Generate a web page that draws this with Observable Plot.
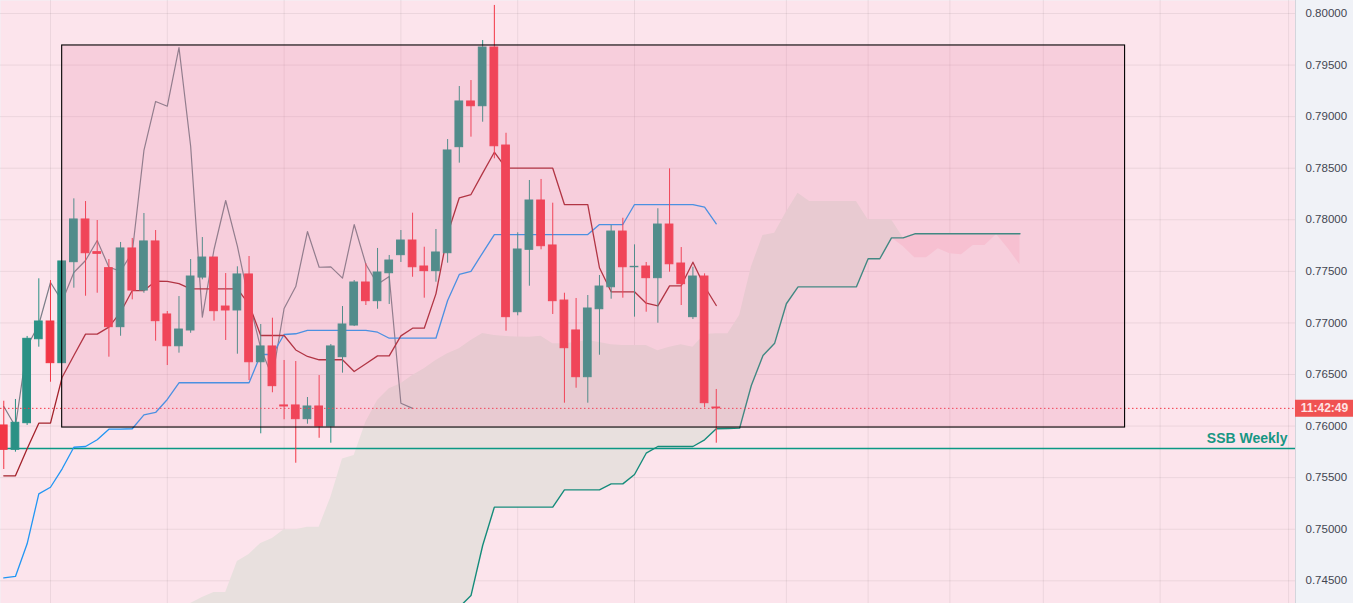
<!DOCTYPE html>
<html><head><meta charset="utf-8">
<script src="https://cdn.jsdelivr.net/npm/d3@7"></script>
<script src="https://cdn.jsdelivr.net/npm/@observablehq/plot@0.6"></script>
<style>
html,body{margin:0;padding:0;background:#f0f2f7;overflow:hidden;}
#chart svg{display:block;}
</style></head><body><div id="chart"></div>
<script>
// ---- data (bar index 0..61) ----
const opens  = [0.76006,0.75770,0.76028,0.76842,0.77014,0.76610,0.77589,0.78003,0.77686,0.77531,
                0.76959,0.77722,0.77314,0.77790,0.77082,0.76774,0.76927,0.77440,0.77634,0.77159,
                0.77121,0.77470,0.76619,0.76772,0.76200,0.76200,0.76067,0.76190,0.75996,0.76668,
                0.76975,0.77392,0.77211,0.77482,0.77657,0.77799,0.77547,0.77502,0.77676,0.78704,
                0.79147,0.79101,0.79670,0.78720,0.77104,0.77709,0.78187,0.77751,0.77217,0.76927,
                0.76474,0.77133,0.77346,0.77886,0.77540,0.77547,0.77434,0.77954,0.77576,0.77056,
                0.77450,0.76180];
const highs  = [0.76241,0.76258,0.76869,0.77428,0.77411,0.77596,0.78203,0.78177,0.77993,0.77615,
                0.77780,0.77819,0.78061,0.77896,0.77111,0.77256,0.77615,0.77828,0.77634,0.77479,
                0.77544,0.77644,0.76985,0.77046,0.76636,0.76626,0.76277,0.76490,0.76791,0.77159,
                0.77411,0.77573,0.77722,0.77654,0.77896,0.78064,0.77734,0.77906,0.78778,0.79292,
                0.79350,0.79738,0.80078,0.78839,0.77874,0.78381,0.78391,0.78161,0.77288,0.77237,
                0.77266,0.77460,0.77945,0.78015,0.77757,0.77586,0.78107,0.78494,0.77731,0.77540,
                0.77476,0.76355];
const lows   = [0.75579,0.75747,0.76006,0.76765,0.76425,0.76610,0.77337,0.77259,0.77288,0.76668,
                0.76871,0.77224,0.77288,0.76823,0.76587,0.76707,0.76900,0.77418,0.77017,0.76830,
                0.76697,0.76442,0.75925,0.76323,0.76061,0.75640,0.76018,0.75882,0.75834,0.76513,
                0.76965,0.77169,0.77133,0.77179,0.77586,0.77443,0.77240,0.77395,0.77579,0.78549,
                0.78801,0.78946,0.78591,0.76920,0.77069,0.77356,0.77709,0.77082,0.76222,0.76367,
                0.76222,0.76687,0.77230,0.77240,0.77056,0.77104,0.76997,0.77492,0.77169,0.77033,
                0.76177,0.75834];
const closes = [0.75770,0.76032,0.76846,0.77014,0.76610,0.77596,0.78003,0.77676,0.77670,0.76959,
                0.77722,0.77314,0.77790,0.77017,0.76774,0.76936,0.77450,0.77634,0.77114,0.77121,
                0.77470,0.76619,0.76772,0.76387,0.76190,0.76067,0.76190,0.75996,0.76772,0.76985,
                0.77392,0.77211,0.77489,0.77605,0.77799,0.77540,0.77502,0.77683,0.78672,0.79147,
                0.79101,0.79670,0.78713,0.77056,0.77712,0.78187,0.77744,0.77211,0.76755,0.76474,
                0.77140,0.77353,0.77886,0.77540,0.77544,0.77434,0.77954,0.77569,0.77376,0.77450,
                0.76222,0.76172];
// conversion line (dark red), bars 0..61
const tenkan = [0.75518,0.75518,0.75780,0.76028,0.76028,0.76474,0.76684,0.76891,0.76891,0.76959,
                0.77104,0.77314,0.77314,0.77405,0.77402,0.77382,0.77331,0.77331,0.77331,0.77331,
                0.77331,0.77179,0.76878,0.76878,0.76878,0.76738,0.76675,0.76643,0.76643,0.76643,
                0.76529,0.76604,0.76681,0.76681,0.76875,0.76949,0.76949,0.77282,0.77864,0.78213,
                0.78245,0.78452,0.78655,0.78500,0.78500,0.78500,0.78500,0.78500,0.78148,0.78148,
                0.78148,0.77535,0.77302,0.77302,0.77302,0.77191,0.77166,0.77360,0.77360,0.77589,
                0.77353,0.77169];
// base line (blue), bars 0..61
const kijun  = [0.74529,0.74542,0.74859,0.75343,0.75407,0.75586,0.75795,0.75802,0.75867,0.75970,
                0.75970,0.75974,0.76109,0.76132,0.76258,0.76420,0.76420,0.76420,0.76420,0.76420,
                0.76420,0.76420,0.76694,0.76694,0.76888,0.76895,0.76927,0.76927,0.76927,0.76927,
                0.76927,0.76927,0.76910,0.76852,0.76852,0.76852,0.76852,0.76852,0.77217,0.77470,
                0.77499,0.77680,0.77857,0.77857,0.77857,0.77857,0.77857,0.77857,0.77857,0.77857,
                0.77857,0.77954,0.77954,0.77954,0.78148,0.78148,0.78148,0.78148,0.78148,0.78148,
                0.78122,0.77961];
// leading span A (teal line), bars 38..87
const spanAStart = 38;
const spanA  = [0.74067,0.74245,0.74357,0.74842,0.75214,0.75214,0.75214,0.75214,0.75214,0.75214,
                0.75382,0.75382,0.75382,0.75382,0.75440,0.75440,0.75531,0.75737,0.75802,0.75802,
                0.75802,0.75802,0.75867,0.75974,0.75977,0.75980,0.76393,0.76684,0.76804,0.77186,
                0.77350,0.77350,0.77350,0.77350,0.77350,0.77350,0.77622,0.77622,0.77825,0.77825,
                0.77864,0.77864,0.77864,0.77864,0.77864,0.77864,0.77864,0.77864,0.77864,0.77864];
// leading span B (cloud edge), bars 15..87
const spanBStart = 15;
const spanB  = [0.74067,0.74251,0.74338,0.74387,0.74387,0.74687,0.74755,0.74862,0.74910,0.74994,
                0.74994,0.75020,0.75020,0.75308,0.75681,0.75715,0.76038,0.76248,0.76361,0.76410,
                0.76490,0.76555,0.76636,0.76701,0.76749,0.76830,0.76898,0.76878,0.76868,0.76864,
                0.76862,0.76871,0.76798,0.76798,0.76810,0.76830,0.76810,0.76788,0.76781,0.76781,
                0.76781,0.76730,0.76765,0.76788,0.76765,0.76888,0.76895,0.76895,0.77072,0.77540,
                0.77848,0.77870,0.78074,0.78258,0.78177,0.78177,0.78177,0.78177,0.78177,0.78000,
                0.78000,0.78000,0.77741,0.77631,0.77631,0.77719,0.77670,0.77661,0.77751,0.77751,
                0.77857,0.77719,0.77564];
const chikouShift = 26;
const yTicks = [0.745,0.750,0.755,0.760,0.765,0.770,0.775,0.780,0.785,0.790,0.795,0.800];
const gridBars = [4,14,24,34,44,54,67,74,81,89,99,110];
const boxBars = [5, 96];
const boxPrices = [0.75986, 0.79690];
const ssbWeekly = 0.75783;
const ssbLabel = "SSB Weekly";
const countdown = "11:42:49";
const xDomain = [-0.28, 110.59];
const yDomain = [0.74280, 0.80126];

// ---- derived tables ----
const candles = opens.map((o, i) => ({i, open: o, high: highs[i], low: lows[i], close: closes[i], up: closes[i] >= o}));
const lastClose = closes[closes.length - 1];
const chikou = closes.slice(chikouShift).map((c, k) => ({i: k, v: c}));
const tenkanD = tenkan.map((v, i) => ({i, v}));
const kijunD = kijun.map((v, i) => ({i, v}));
const spanAD = spanA.map((v, k) => ({i: k + spanAStart, v}));
const cloud = spanB.map((b, k) => {
  const i = k + spanBStart;
  const a = i >= spanAStart ? spanA[i - spanAStart] : yDomain[0];
  return {i, a, b, top: Math.max(a, b), bot: Math.min(a, b), hasA: i >= spanAStart};
});
const cloudA = cloud.filter(d => d.hasA);

const UP = "#2a9185", DOWN = "#f23645";
const W = 1353, H = 603, MR = 58;
const pxPerUnit = (W - MR) / (xDomain[1] - xDomain[0]);
const xRight = xDomain[1] + MR / pxPerUnit;

const plot = Plot.plot({
  width: W, height: H,
  marginLeft: 0, marginRight: MR, marginTop: 0, marginBottom: 0,
  x: {domain: xDomain, axis: null},
  y: {domain: yDomain, axis: null},
  style: {background: "transparent", fontFamily: "'Liberation Sans', Arial, sans-serif", overflow: "visible"},
  marks: [
    Plot.frame({fill: "#fce4ec", stroke: null}),
    Plot.ruleY(yTicks, {stroke: "#000", strokeOpacity: 0.065}),
    Plot.ruleX(gridBars, {stroke: "#000", strokeOpacity: 0.065}),
    Plot.areaY(cloud, {x: "i", y1: "a", y2: "top", fill: "#e8e0de"}),
    Plot.areaY(cloudA, {x: "i", y1: "a", y2: "bot", fill: "#fbd3de"}),
    Plot.ruleY([ssbWeekly], {stroke: "#0a9884", strokeWidth: 1.5}),
    Plot.line(chikou, {x: "i", y: "v", stroke: "#7b7e88", strokeWidth: 1.2}),
    Plot.line(kijunD, {x: "i", y: "v", stroke: "#2196f3", strokeWidth: 1.3}),
    Plot.line(tenkanD, {x: "i", y: "v", stroke: "#a3222b", strokeWidth: 1.3}),
    Plot.line(spanAD, {x: "i", y: "v", stroke: "#148c7a", strokeWidth: 1.4}),
    Plot.ruleX(candles, {x: "i", y1: "low", y2: "high", stroke: d => d.up ? UP : DOWN, strokeWidth: 1}),
    Plot.rect(candles, {x1: d => d.i - 0.33, x2: d => d.i + 0.33, y1: "open", y2: "close",
      fill: d => d.up ? UP : DOWN, stroke: d => d.up ? UP : DOWN, strokeWidth: 1}),
    Plot.ruleY([lastClose], {stroke: "#f23645", strokeWidth: 1, strokeDasharray: "1.5,2.5"}),
    Plot.rect([{x1: boxBars[0], x2: boxBars[1], y1: boxPrices[0], y2: boxPrices[1]}],
      {x1: "x1", x2: "x2", y1: "y1", y2: "y2", fill: "rgb(233,123,162)", fillOpacity: 0.215, stroke: "#000", strokeWidth: 1.1}),
    Plot.text([ssbWeekly], {y: d => d, frameAnchor: "right", dx: -8, dy: -10, textAnchor: "end",
      text: () => ssbLabel, fill: "#179683", fontWeight: "bold", fontSize: 14}),
    Plot.ruleX([xDomain[1]], {stroke: "#d3d5dc", strokeWidth: 1}),
    Plot.axisY(yTicks, {anchor: "right", tickSize: 0, tickPadding: 10, tickFormat: d => d.toFixed(5),
      fontSize: 11.5, fill: "#434651"}),
    Plot.ruleY([lastClose], {x1: xDomain[1], x2: xRight, stroke: "#f05252", strokeWidth: 17}),
    Plot.text([lastClose], {y: d => d, frameAnchor: "right", dx: 29, textAnchor: "middle",
      text: () => countdown, fill: "#ffe3e3", fontWeight: "bold", fontSize: 12})
  ]
});
document.getElementById("chart").appendChild(plot);
</script></body></html>
